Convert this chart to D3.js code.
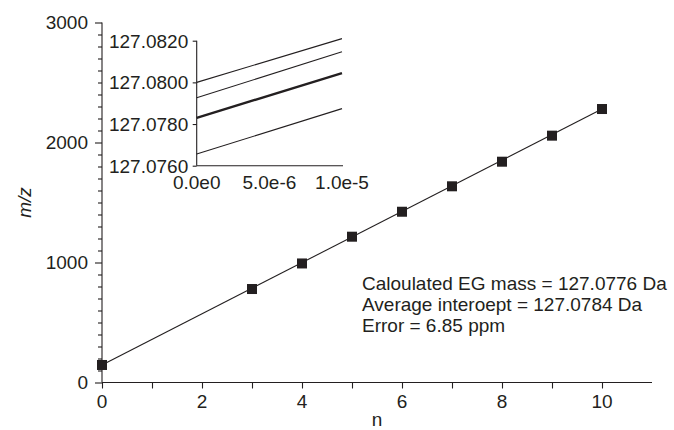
<!DOCTYPE html>
<html><head><meta charset="utf-8">
<script src="https://cdn.jsdelivr.net/npm/d3@7"></script>
<style>
html,body{margin:0;padding:0;background:#fff;}
svg{display:block;font-family:"Liberation Sans",Arial,sans-serif;}
</style></head>
<body><svg id="c" width="674" height="430"></svg>
<script>
// Main series
const nValues = [0, 3, 4, 5, 6, 7, 8, 9, 10];
const mzValues = [146, 779, 992, 1215, 1423, 1635, 1840, 2057, 2279];
const fitN = [0, 10];
const fitMz = [146, 2279];
const xMajorTicks = [0, 2, 4, 6, 8, 10];
const yMajorTicks = [0, 1000, 2000, 3000];
// Inset series
const insetX = [0, 1e-5];
const insetLineA = [127.0800, 127.0821];
const insetLineB = [127.07926, 127.08147];
const insetLineC = [127.0783, 127.08044];
const insetLineD = [127.07656, 127.07874];
const insetYTicks = [127.076, 127.078, 127.080, 127.082];
const insetXTicks = [0, 5e-6, 1e-5];
const insetXLabels = ["0.0e0", "5.0e-6", "1.0e-5"];
const annotation = ["Caloulated EG mass = 127.0776 Da", "Average interoept = 127.0784 Da", "Error = 6.85 ppm"];

const ink = "#231f20";
const fs = "19px";
const svg = d3.select("#c");

const x = d3.scaleLinear().domain([0, 11]).range([102, 652]);
const y = d3.scaleLinear().domain([0, 3000]).range([382.5, 22.5]);

// y axis
const gy = svg.append("g").attr("transform", `translate(${x(0)},0)`);
gy.call(d3.axisLeft(y).tickValues(d3.range(0, 3001, 100)).tickSize(4).tickFormat(""));
gy.call(g => g.selectAll(".tick line").filter(d => d % 1000 === 0).attr("x2", -7));
gy.selectAll("path,line").attr("stroke", ink).attr("stroke-width", 1.1);
gy.select(".domain").attr("d", `M0,${y(3000)}V${y(0)}`);
gy.selectAll(".ylab").data(yMajorTicks).join("text")
  .attr("x", -14).attr("y", d => y(d)).attr("dy", "0.36em")
  .attr("text-anchor", "end").attr("fill", ink).style("font-size", fs).text(d => d);

// x axis
const gx = svg.append("g").attr("transform", `translate(0,${y(0)})`);
gx.call(d3.axisBottom(x).tickValues(d3.range(0, 11, 1)).tickSize(6).tickFormat(""));
gx.selectAll("path,line").attr("stroke", ink).attr("stroke-width", 1.1);
gx.select(".domain").attr("d", `M${x(0)},0H${x(11)}`);
gx.selectAll(".xlab").data(xMajorTicks).join("text")
  .attr("x", d => x(d)).attr("y", 25.8)
  .attr("text-anchor", "middle").attr("fill", ink).style("font-size", fs).text(d => d);

// axis titles
svg.append("text").attr("transform", `translate(31,${(y(0)+y(3000))/2}) rotate(-90)`)
  .attr("text-anchor", "middle").attr("fill", ink).style("font-size", fs).style("font-style", "italic").text("m/z");
svg.append("text").attr("x", (x(0)+x(11))/2).attr("y", 426)
  .attr("text-anchor", "middle").attr("fill", ink).style("font-size", fs).text("n");

// fit line
svg.append("path").datum(fitN.map((d, i) => [d, fitMz[i]]))
  .attr("d", d3.line().x(d => x(d[0])).y(d => y(d[1])))
  .attr("fill", "none").attr("stroke", ink).attr("stroke-width", 1.1);

// markers
const ms = 10;
svg.selectAll(".pt").data(nValues.map((d, i) => [d, mzValues[i]])).join("rect")
  .attr("x", d => x(d[0]) - ms/2).attr("y", d => y(d[1]) - ms/2)
  .attr("width", ms).attr("height", ms).attr("fill", ink);

// annotation
svg.selectAll(".ann").data(annotation).join("text")
  .attr("x", 362).attr("y", (d, i) => 290 + i * 21)
  .attr("fill", ink).style("font-size", fs).text(d => d);

// inset
const ix = d3.scaleLinear().domain([0, 1e-5]).range([196.7, 342]);
const iy = d3.scaleLinear().domain([127.076, 127.082]).range([165.7, 40.7]);

const igy = svg.append("g").attr("transform", `translate(${ix(0)},0)`);
igy.call(d3.axisLeft(iy).tickValues(insetYTicks).tickSize(4).tickFormat(""));
igy.selectAll("path,line").attr("stroke", ink).attr("stroke-width", 1.1);
igy.select(".domain").attr("d", `M0,${iy(127.082)}V${iy(127.076)}`);
igy.selectAll(".iyl").data(insetYTicks).join("text")
  .attr("x", -8.5).attr("y", d => iy(d)).attr("dy", "0.36em")
  .attr("text-anchor", "end").attr("fill", ink).style("font-size", fs).text(d => d.toFixed(4));

const igx = svg.append("g").attr("transform", `translate(0,${iy(127.076)})`);
igx.append("path").attr("d", `M${ix(0)},0H${ix(1e-5)+1}`).attr("stroke", ink).attr("stroke-width", 1.1);
igx.selectAll(".ixl").data(insetXTicks).join("text")
  .attr("x", d => ix(d)).attr("y", 23.6)
  .attr("text-anchor", "middle").attr("fill", ink).style("font-size", fs).text((d, i) => insetXLabels[i]);

const iline = d3.line().x(d => ix(d[0])).y(d => iy(d[1]));
[[insetLineA, 1.1], [insetLineB, 1.1], [insetLineC, 2.4], [insetLineD, 1.1]].forEach(([vals, w]) => {
  svg.append("path").datum(insetX.map((d, i) => [d, vals[i]]))
    .attr("d", iline).attr("fill", "none").attr("stroke", ink).attr("stroke-width", w);
});
</script></body></html>
